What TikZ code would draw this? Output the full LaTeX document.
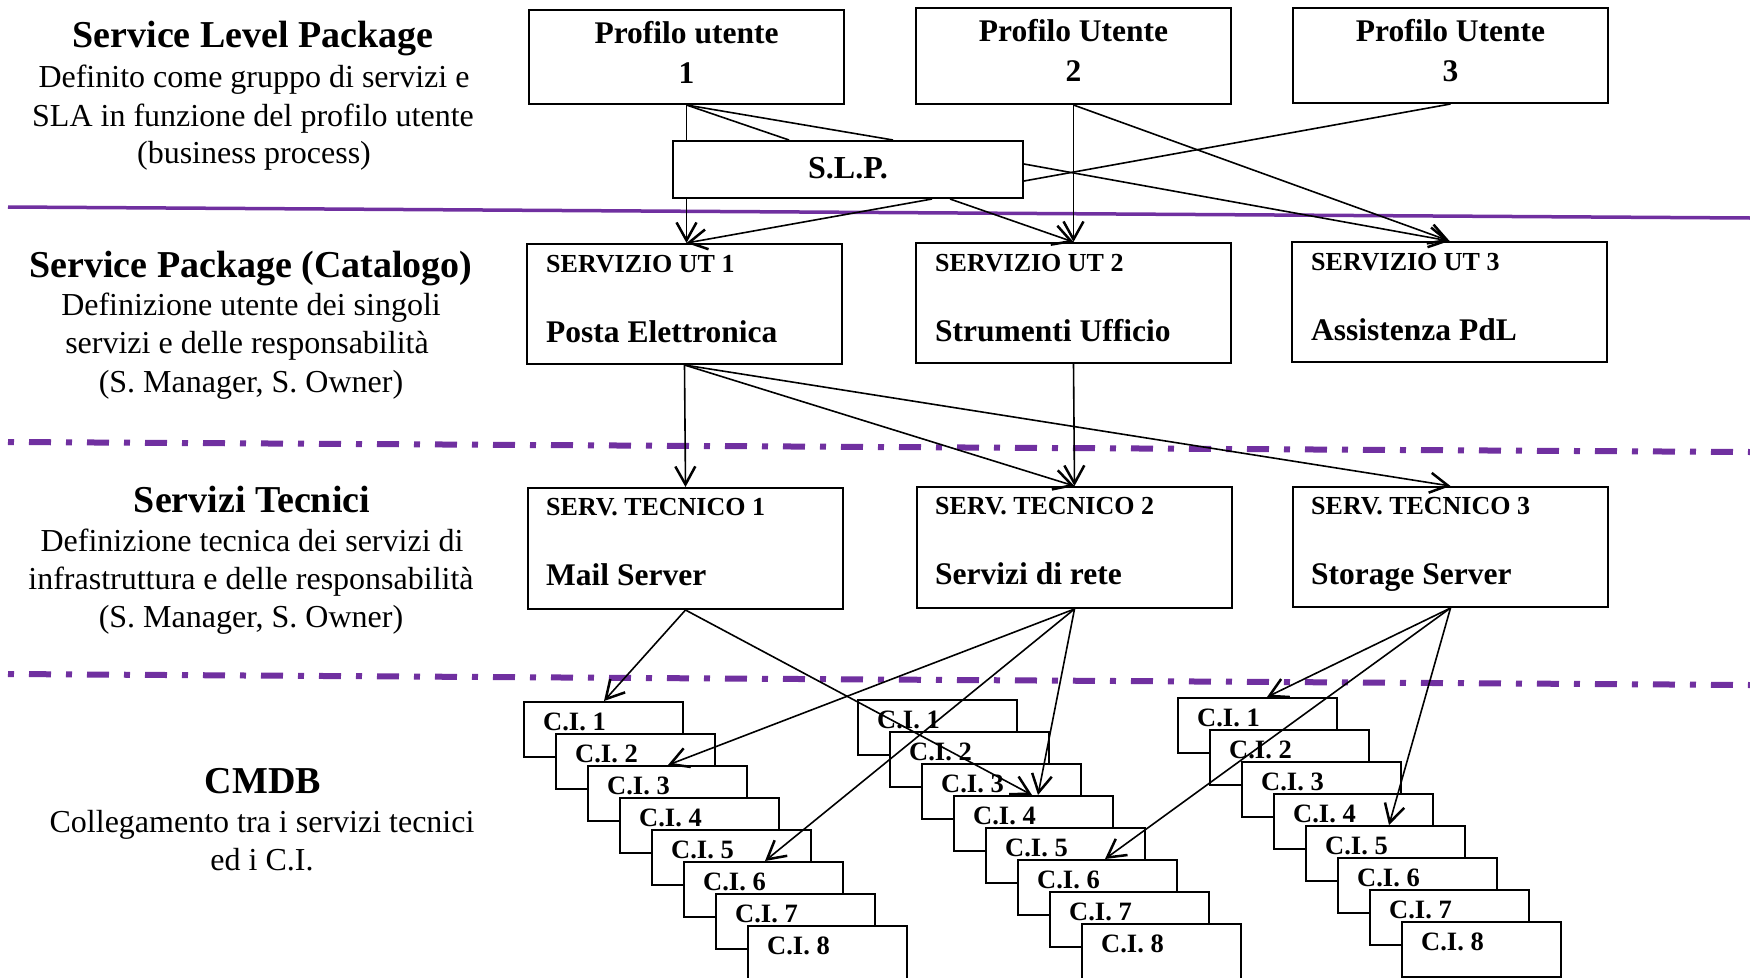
\documentclass[tikz,border=0pt]{standalone}
\usepackage{fontspec}
\setmainfont{Liberation Serif}
\usetikzlibrary{arrows.meta,calc}
\definecolor{lilac}{HTML}{7030A0}
\begin{document}
\begin{tikzpicture}[x=1pt,y=-1pt,
  box/.style={draw, line width=2pt, fill=white, inner sep=0pt, anchor=north west, minimum width=315pt},
  cibox/.style={draw, line width=1.8pt, fill=white, inner sep=0pt, anchor=north west, minimum width=159pt, minimum height=55pt},
  conn/.style={line width=1.6pt},
  arr/.style={conn, -{Straight Barb[length=18pt,width=20pt,line width=2.5pt]}},
  headtxt/.style={font=\fontsize{38}{44}\selectfont\bfseries, inner sep=0pt, anchor=base},
  bodytxt/.style={font=\fontsize{32}{38}\selectfont, inner sep=0pt, anchor=base},
  boxbig/.style={font=\fontsize{31.5}{36}\selectfont\bfseries, inner sep=0pt},
  boxsmall/.style={font=\fontsize{26}{30}\selectfont\bfseries, inner sep=0pt, anchor=base west},
  citxt/.style={font=\fontsize{26.5}{30}\selectfont\bfseries, inner sep=0pt, anchor=base west},
  divider/.style={draw=lilac, line width=3.5pt},
  dashdiv/.style={draw=lilac, line width=6pt, dash pattern=on 6pt off 15pt on 22pt off 15pt},
]
\useasboundingbox (0,0) rectangle (1750,977);

% dividers
\coordinate (d1a) at (8,207);   \coordinate (d1b) at (1750,218);
\coordinate (d2a) at (8,442);   \coordinate (d2b) at (1750,452);
\coordinate (d3a) at (8,674);   \coordinate (d3b) at (1750,685);
\draw[divider] (d1a) -- (d1b);
\draw[dashdiv] (d2a) -- (d2b);
\draw[dashdiv] (d3a) -- (d3b);

% left descriptions
\node[headtxt] (h1) at (253,47) {Service Level Package};
\node[bodytxt] (h1a) at (254,87) {Definito come gruppo di servizi e};
\node[bodytxt] (h1b) at (253,126) {SLA in funzione del profilo utente};
\node[bodytxt] (h1c) at (254,163) {(business process)};

\node[headtxt] (h2) at (251,277) {Service Package (Catalogo)};
\node[bodytxt] (h2a) at (251,315) {Definizione utente dei singoli};
\node[bodytxt] (h2b) at (247,353) {servizi e delle responsabilità};
\node[bodytxt] (h2c) at (251,392) {(S. Manager, S. Owner)};

\node[headtxt] (h3) at (252,512) {Servizi Tecnici};
\node[bodytxt] (h3a) at (252,551) {Definizione tecnica dei servizi di};
\node[bodytxt] (h3b) at (251,589) {infrastruttura e delle responsabilità};
\node[bodytxt] (h3c) at (251,627) {(S. Manager, S. Owner)};

\node[headtxt] (h4) at (263,793) {CMDB};
\node[bodytxt] (h4a) at (262,832) {Collegamento tra i servizi tecnici};
\node[bodytxt] (h4b) at (262,870) {ed i C.I.};

% user profiles
\node[box, minimum height=94pt] (p1) at (528,9) {};
\node[box, minimum height=96pt] (p2) at (915,7) {};
\node[box, minimum height=95pt] (p3) at (1292,7) {};
\foreach \p/\t/\n in {p1/utente/1, p2/Utente/2, p3/Utente/3}{
  \node[boxbig, anchor=base] (\p a) at ($(\p.north)+(0,34)$) {Profilo \t};
  \node[boxbig, anchor=base] (\p b) at ($(\p.north)+(0,74)$) {\n};
}

% user services
\node[box, minimum height=120pt] (s1) at (526,243) {};
\node[box, minimum height=120pt] (s2) at (915,242) {};
\node[box, minimum height=120pt] (s3) at (1291,241) {};
\node[boxsmall] (s1a) at ($(s1.north west)+(20,29)$) {SERVIZIO UT 1};
\node[boxsmall] (s2a) at ($(s2.north west)+(20,29)$) {SERVIZIO UT 2};
\node[boxsmall] (s3a) at ($(s3.north west)+(20,29)$) {SERVIZIO UT 3};
\node[boxbig, anchor=base west] (s1b) at ($(s1.north west)+(20,99)$) {Posta Elettronica};
\node[boxbig, anchor=base west] (s2b) at ($(s2.north west)+(20,99)$) {Strumenti Ufficio};
\node[boxbig, anchor=base west] (s3b) at ($(s3.north west)+(20,99)$) {Assistenza PdL};

% technical services
\node[box, minimum height=121pt] (t1) at (527,487) {};
\node[box, minimum height=121pt] (t2) at (916,486) {};
\node[box, minimum height=120pt] (t3) at (1292,486) {};
\node[boxsmall] (t1a) at ($(t1.north west)+(19,28)$) {SERV. TECNICO 1};
\node[boxsmall] (t2a) at ($(t2.north west)+(19,28)$) {SERV. TECNICO 2};
\node[boxsmall] (t3a) at ($(t3.north west)+(19,28)$) {SERV. TECNICO 3};
\node[boxbig, anchor=base west] (t1b) at ($(t1.north west)+(19,98)$) {Mail Server};
\node[boxbig, anchor=base west] (t2b) at ($(t2.north west)+(19,98)$) {Servizi di rete};
\node[boxbig, anchor=base west] (t3b) at ($(t3.north west)+(19,98)$) {Storage Server};

% CI stacks
\foreach \s/\ox/\oy in {A/523/701, B/857/699, C/1177/697}{
  \foreach \i in {1,...,8}{
    \node[cibox] (\s\i) at ({\ox+32*(\i-1)},{\oy+32*(\i-1)}) {};
    \node[citxt] (\s\i-t) at ($(\s\i.north west)+(20,29)$) {C.I. \i};
  }
}

% profile 1 straight down (hidden behind S.L.P.)
\draw[arr] (p1.south) -- (p1.south |- s1.north);

% S.L.P.
\node[box, minimum width=350pt, minimum height=57pt] (slp) at (672,140) {};
\node[boxbig, anchor=base, font=\fontsize{32}{36}\selectfont\bfseries] (slpt) at ($(slp.north)+(0,38.5)$) {S.L.P.};

% endpoints on S.L.P.
\coordinate (slpN1) at ($(slp.north west)+(117,0)$);
\coordinate (slpN2) at ($(slp.north west)+(221,0)$);
\coordinate (slpS1) at ($(slp.south west)+(260,0)$);
\coordinate (slpS2) at ($(slp.south west)+(278,0)$);
\coordinate (slpE1) at ($(slp.north east)+(0,24)$);
\coordinate (slpE2) at ($(slp.north east)+(0,41)$);
\coordinate (s1in) at (p1.south |- s1.north);

\draw[conn] (p1.south) -- (slpN1);
\draw[conn] (p1.south) -- (slpN2);
\draw[arr] (slpS1) -- (s1in);
\draw[arr] (slpS2) -- (s2.north);
\draw[arr] (slpE1) -- (s3.north);
\draw[conn] (p3.south) -- (slpE2);
\draw[arr] (p2.south) -- (s2.north);
\draw[arr] (p2.south) -- (s3.north);

% level 2 -> level 3
\draw[arr] (s1.south) -- (t1.north);
\draw[arr] (s1.south) -- (t2.north);
\draw[arr] (s1.south) -- (t3.north);
\draw[arr] (s2.south) -- (t2.north);

% level 3 -> CI
\coordinate (cA1) at ($(A1.north west)+(81,0)$);
\coordinate (cA3) at ($(A3.north west)+(81,0)$);
\coordinate (cA6) at ($(A6.north west)+(82,0)$);
\coordinate (cB4a) at ($(B4.north west)+(79,0)$);
\coordinate (cB4b) at ($(B4.north west)+(85,0)$);
\coordinate (cB6) at ($(B6.north west)+(88,0)$);
\coordinate (cC1) at ($(C1.north west)+(90,0)$);
\coordinate (cC5) at ($(C5.north west)+(84,0)$);
\draw[arr] (t1.south) -- (cA1);
\draw[arr] (t1.south) -- (cB4a);
\draw[arr] (t2.south) -- (cA3);
\draw[arr] (t2.south) -- (cA6);
\draw[arr] (t2.south) -- (cB4b);
\draw[arr] (t3.south) -- (cC1);
\draw[arr] (t3.south) -- (cB6);
\draw[arr] (t3.south) -- (cC5);
\end{tikzpicture}
\end{document}
